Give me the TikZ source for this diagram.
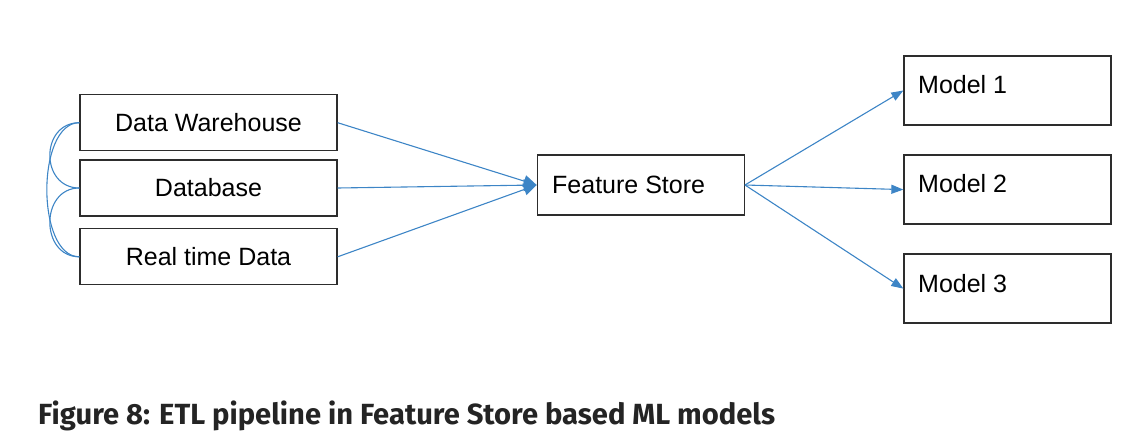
\documentclass[tikz,border=0pt]{standalone}
\usepackage{fontspec}
\setmainfont{Liberation Sans}
\newfontfamily\capfont{Fira Sans}
\usetikzlibrary{arrows.meta}
\definecolor{linkblue}{RGB}{61,133,198}
\definecolor{boxgray}{RGB}{45,45,45}
\definecolor{captext}{RGB}{36,36,36}
\begin{document}
\begin{tikzpicture}[x=1pt,y=-1pt,
  boxnode/.style={draw=boxgray,line width=1.3pt,inner sep=0pt,fill=white,
    font=\fontsize{25}{28}\selectfont},
  srcbox/.style={boxnode,minimum width=257pt,minimum height=56pt},
  modelbox/.style={boxnode,minimum width=207pt,minimum height=69pt},
  lbl/.style={anchor=west,inner sep=0pt,font=\fontsize{25}{28}\selectfont},
  link/.style={draw=linkblue,line width=1.1pt},
  flow/.style={link,-{Triangle[length=13pt,width=12pt]}},
  flowsmall/.style={link,-{Triangle[length=12pt,width=9pt]}}
]
\useasboundingbox (0,0) rectangle (1134,444);

% sources
\node[srcbox] (dw) at (208.5,122.7) {Data Warehouse};
\node[srcbox] (db) at (208.5,188) {Database};
\node[srcbox] (rt) at (208.5,256.8) {Real time Data};

% feature store
\node[boxnode,minimum width=207pt,minimum height=60pt] (fs) at (640.8,185) {};
\node[lbl] (fst) at (552,185) {Feature Store};

% models
\node[modelbox] (m1) at (1007.5,90.5) {};
\node[modelbox] (m2) at (1007.5,189.6) {};
\node[modelbox] (m3) at (1007.5,288.6) {};
\node[lbl] (m1t) at (918,85) {Model 1};
\node[lbl] (m2t) at (918,184) {Model 2};
\node[lbl] (m3t) at (918,284) {Model 3};

% left bracket curves
\draw[link] (dw.west) .. controls (40,122.7) and (40,188) .. (db.west);
\draw[link] (db.west) .. controls (40,188) and (40,256.8) .. (rt.west);
\draw[link] (dw.west) .. controls (36,122.7) and (36,256.8) .. (rt.west);

% sources to feature store
\draw[flow] (dw.east) -- (fs.west);
\draw[flow] (db.east) -- (fs.west);
\draw[flow] (rt.east) -- (fs.west);

% feature store to models
\draw[flowsmall] (fs.east) -- (m1.west);
\draw[flowsmall] (fs.east) -- (m2.west);
\draw[flowsmall] (fs.east) -- (m3.west);

% caption
\node[anchor=base west,inner sep=0pt,text=captext] (cap) at (38,424.3)
  {\resizebox{737pt}{!}{\capfont\bfseries\fontsize{26}{30}\selectfont Figure 8: ETL pipeline in Feature Store based ML models}};
\end{tikzpicture}
\end{document}
